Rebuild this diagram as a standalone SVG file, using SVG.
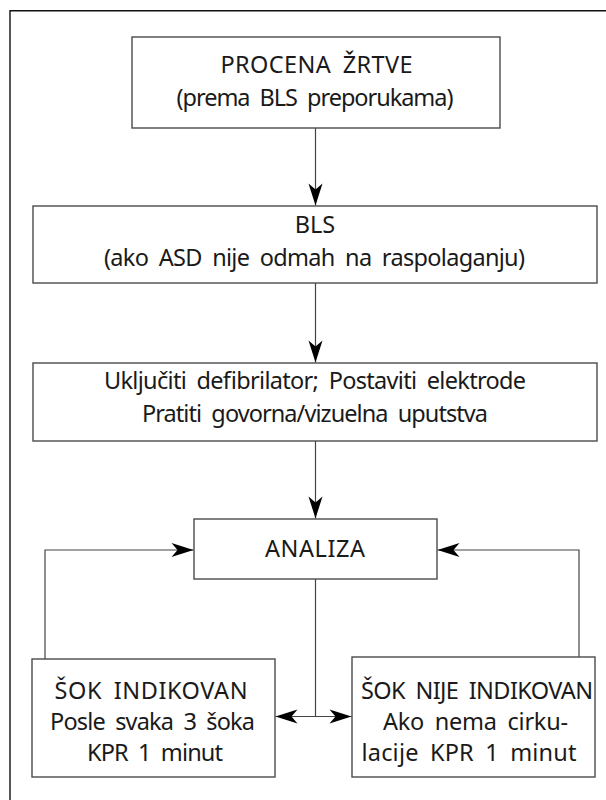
<svg xmlns="http://www.w3.org/2000/svg" width="606" height="800" viewBox="0 0 606 800">
<style>
.box{fill:#fff;stroke:#4a4a4a;stroke-width:1.4}
.t{font-family:"Noto Sans","Open Sans","Liberation Sans",sans-serif;font-size:23.5px;fill:#1a1a1a;text-anchor:middle;word-spacing:5px}
.c{fill:none;stroke:#444;stroke-width:1.2}
.frame{fill:none;stroke:#111;stroke-width:1.4}
</style>
<defs>
<marker id="ah" viewBox="-23 -8 24 16" refX="0" refY="0" markerWidth="24" markerHeight="16" markerUnits="userSpaceOnUse" orient="auto-start-reverse">
<path d="M0,0 L-22,-7 L-16,0 L-22,7 Z" fill="#000"/>
</marker>
</defs>
<path class="frame" d="M10,800 V10.7 H606"/>
<g id="connectors">
<path class="c" d="M315.5,128 V205.5" marker-end="url(#ah)"/>
<path class="c" d="M315.5,283 V362.5" marker-end="url(#ah)"/>
<path class="c" d="M315.5,441 V518.5" marker-end="url(#ah)"/>
<path class="c" d="M315.5,579 V716.5"/>
<path class="c" d="M275.5,716.5 H351.5" marker-start="url(#ah)" marker-end="url(#ah)"/>
<path class="c" d="M45,659 V550 H193.5" marker-end="url(#ah)"/>
<path class="c" d="M579,657 V550 H437.5" marker-end="url(#ah)"/>
</g>
<g id="procena">
<rect class="box" x="132" y="37" width="368" height="91"/>
<text class="t" x="316.5" y="73" textLength="192" lengthAdjust="spacing">PROCENA ŽRTVE</text>
<text class="t" x="315" y="106" textLength="277" lengthAdjust="spacing">(prema BLS preporukama)</text>
</g>
<g id="bls">
<rect class="box" x="33" y="206" width="564" height="77"/>
<text class="t" x="315" y="233">BLS</text>
<text class="t" x="314.5" y="266" textLength="421" lengthAdjust="spacing">(ako ASD nije odmah na raspolaganju)</text>
</g>
<g id="defib">
<rect class="box" x="33" y="363" width="564" height="78"/>
<text class="t" x="315" y="389" textLength="422" lengthAdjust="spacing">Uključiti defibrilator; Postaviti elektrode</text>
<text class="t" x="315" y="422" textLength="346" lengthAdjust="spacing">Pratiti govorna/vizuelna uputstva</text>
</g>
<g id="analiza">
<rect class="box" x="194" y="519" width="243" height="60"/>
<text class="t" x="315" y="557" textLength="100" lengthAdjust="spacing">ANALIZA</text>
</g>
<g id="sok">
<rect class="box" x="32" y="659" width="243" height="118"/>
<text class="t" x="151" y="699" textLength="193" lengthAdjust="spacing">ŠOK INDIKOVAN</text>
<text class="t" x="152.5" y="730" textLength="205" lengthAdjust="spacing">Posle svaka 3 šoka</text>
<text class="t" x="155" y="761" textLength="136" lengthAdjust="spacing">KPR 1 minut</text>
</g>
<g id="nesok">
<rect class="box" x="352" y="657" width="243" height="120"/>
<text class="t" x="477" y="699" textLength="232" lengthAdjust="spacing">ŠOK NIJE INDIKOVAN</text>
<text class="t" x="475.5" y="730" textLength="185" lengthAdjust="spacing">Ako nema cirku-</text>
<text class="t" x="469" y="761" textLength="215" lengthAdjust="spacing">lacije KPR 1 minut</text>
</g>
</svg>
